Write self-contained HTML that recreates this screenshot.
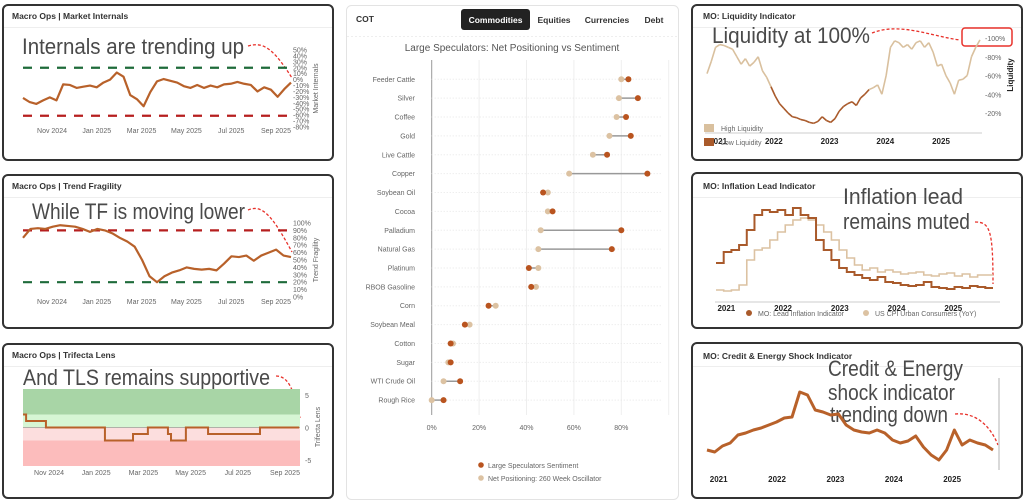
<!DOCTYPE html>
<html><head><meta charset="utf-8"><style>
html,body{margin:0;padding:0;background:#fff;width:1024px;height:502px;overflow:hidden;font-family:"Liberation Sans",sans-serif}
svg text{font-family:"Liberation Sans",sans-serif}
.hw{font-size:22px;fill:#4a4a4a}
.t{font-size:8.5px;font-weight:bold;fill:#333}
.ax{font-size:7px;fill:#666}
.ax2{font-size:8px;fill:#222;font-weight:bold}
</style></head><body>
<svg id="root" width="1024" height="502" viewBox="0 0 1024 502" xmlns="http://www.w3.org/2000/svg">
<!-- panels -->
<rect x="3" y="5" width="330" height="155" rx="5" fill="#fff" stroke="#333" stroke-width="2"/>
<rect x="3" y="175" width="330" height="153" rx="5" fill="#fff" stroke="#333" stroke-width="2"/>
<rect x="3" y="344" width="330" height="154" rx="5" fill="#fff" stroke="#333" stroke-width="2"/>
<rect x="346.5" y="5.5" width="332" height="494" rx="5" fill="#fff" stroke="#e3e3e3"/>
<rect x="692" y="5" width="330" height="155" rx="5" fill="#fff" stroke="#333" stroke-width="2"/>
<rect x="692" y="173" width="330" height="155" rx="5" fill="#fff" stroke="#333" stroke-width="2"/>
<rect x="692" y="343" width="330" height="155" rx="5" fill="#fff" stroke="#333" stroke-width="2"/>
<g stroke="#eee" stroke-width="1">
<line x1="4" x2="332" y1="27.5" y2="27.5"/><line x1="4" x2="332" y1="197.5" y2="197.5"/><line x1="4" x2="332" y1="366.5" y2="366.5"/>
<line x1="693" x2="1021" y1="27.5" y2="27.5"/><line x1="693" x2="1021" y1="197.5" y2="197.5"/><line x1="693" x2="1021" y1="366.5" y2="366.5"/>
<line x1="347" x2="678" y1="36.5" y2="36.5" stroke-dasharray="2,2"/>
</g>
<text class="t" x="12" y="19">Macro Ops | Market Internals</text>
<text class="t" x="12" y="189">Macro Ops | Trend Fragility</text>
<text class="t" x="12" y="358">Macro Ops | Trifecta Lens</text>
<text class="t" x="703" y="19">MO: Liquidity Indicator</text>
<text class="t" x="703" y="189">MO: Inflation Lead Indicator</text>
<text class="t" x="703" y="359">MO: Credit &amp; Energy Shock Indicator</text>
<!-- annotations -->
<text class="hw" x="22" y="54" textLength="222" lengthAdjust="spacingAndGlyphs">Internals are trending up</text>
<text class="hw" x="32" y="219" textLength="213" lengthAdjust="spacingAndGlyphs">While TF is moving lower</text>
<text class="hw" x="23" y="385" textLength="247" lengthAdjust="spacingAndGlyphs">And TLS remains supportive</text>
<text class="hw" x="712" y="43" textLength="158" lengthAdjust="spacingAndGlyphs">Liquidity at 100%</text>
<text class="hw" x="843" y="204" textLength="120" lengthAdjust="spacingAndGlyphs">Inflation lead</text>
<text class="hw" x="843" y="229" textLength="127" lengthAdjust="spacingAndGlyphs">remains muted</text>
<text class="hw" x="828" y="376" textLength="135" lengthAdjust="spacingAndGlyphs">Credit &amp; Energy</text>
<text class="hw" x="828" y="400" textLength="127" lengthAdjust="spacingAndGlyphs">shock indicator</text>
<text class="hw" x="830" y="422" textLength="118" lengthAdjust="spacingAndGlyphs">trending down</text>
<g fill="none" stroke="#e8322b" stroke-width="1.3" stroke-dasharray="3,2">
<path d="M248 46 C262 42 272 46 292 78"/>
<path d="M248 210 C262 204 272 215 292 252"/>
<path d="M276 376 C292 376 295 400 300 418"/>
<path d="M872 33 C900 22 930 36 960 40"/>
<path d="M975 222 C990 222 993 230 993 284"/>
<path d="M955 414 C975 412 990 425 998 445"/>
</g>
<rect x="962" y="28" width="50" height="18" rx="3" fill="none" stroke="#e8322b" stroke-width="1.5"/>
<!-- COT header -->
<text class="t" x="356" y="22">COT</text>
<rect x="461" y="9" width="69" height="21" rx="3" fill="#222"/>
<text x="495.5" y="23" text-anchor="middle" font-size="8.5" font-weight="bold" fill="#fff">Commodities</text>
<text x="554" y="23" text-anchor="middle" font-size="8.5" font-weight="bold" fill="#333">Equities</text>
<text x="607" y="23" text-anchor="middle" font-size="8.5" font-weight="bold" fill="#333">Currencies</text>
<text x="654" y="23" text-anchor="middle" font-size="8.5" font-weight="bold" fill="#333">Debt</text>
<text x="512" y="51" text-anchor="middle" font-size="10" fill="#555">Large Speculators: Net Positioning vs Sentiment</text>
<g id="g"></g>
</svg>
<script>
// ===== data =====
const cotCategories = ["Feeder Cattle","Silver","Coffee","Gold","Live Cattle","Copper","Soybean Oil","Cocoa","Palladium","Natural Gas","Platinum","RBOB Gasoline","Corn","Soybean Meal","Cotton","Sugar","WTI Crude Oil","Rough Rice"];
const cotSentiment = [83,87,82,84,74,91,47,51,80,76,41,42,24,14,8,8,12,5];
const cotOscillator = [80,79,78,75,68,58,49,49,46,45,45,44,27,16,9,7,5,0];
const cotTicks = [0,20,40,60,80];

const internalsValues = [-31,-38,-41,-35,-30,-35,-8,-9,-14,-12,-10,-13,-5,0,12,5,-26,-33,-45,-21,-3,1,-2,-5,-11,-14,-9,-14,-10,-13,-8,-7,-4,-7,-9,-20,-13,-17,-29,-16,-5];
const internalsTicks = [50,40,30,20,10,0,-10,-20,-30,-40,-50,-60,-70,-80];
const internalsBands = [20,-61];

const fragilityValues = [80,92,93,92,95,97,96,95,92,88,92,90,86,80,75,68,50,28,20,28,33,36,40,38,37,38,36,45,55,54,56,49,56,60,64,56,54];
const fragilityTicks = [100,90,80,70,60,50,40,30,20,10,0];
const fragilityBands = [90,20];

const dateLabels = ["Nov 2024","Jan 2025","Mar 2025","May 2025","Jul 2025","Sep 2025"];
const dateLabelMonths = [0,2,4,6,8,10];

const tlsStartMonths = [-1.1,-0.97,-0.13,2.37,3.56,4.19,5.04,5.17,5.8,6.74,8.94];
const tlsValues = [2,1,0,-2,-1,0,-1,-2,0,-1,0];
const tlsTicks = [5,0,-5];

const liquidityValues = [62,75,90,93,92,90,88,80,72,78,70,74,80,65,58,48,38,30,25,20,16,15,13,12,10,9,11,16,12,10,14,22,27,30,32,28,36,40,45,47,50,40,60,90,97,95,90,93,88,95,97,90,95,85,70,72,60,52,40,55,56,60,80,90,98];
const liquidityTicks = [100,80,60,40,20];
const yearLabels = ["2021","2022","2023","2024","2025"];
const yearValues = [2021,2022,2023,2024,2025];

const leadInflation = [3.2,4.3,4.5,5,6.5,8,8.5,8.3,8.5,8,8.7,8,7.7,5.5,4.5,3.5,2.7,2.3,2,1.7,1.5,1.8,1.3,1.2,1,0.9,1,1.3,0.8,0.7,0.6,0.8,0.7,0.9,0.8,0.7];
const cpiInflation = [0.5,0.4,0.5,1,3.5,4.5,4.7,5.5,6.3,7,7.5,7.7,7.5,7,6.3,5.5,4.5,3.7,3,2.5,2.7,2.3,2.5,2.3,2.1,2.2,2.3,2,1.9,2.1,2.2,1.9,2.1,1.8,2,2];

const creditShock = [3,2.6,3.8,4.4,6,6.4,7,7.4,8,8.6,9.4,9.6,14.6,14,11,10.6,10,10.2,8,7,6.6,6.4,7,6.4,5,4.4,4.8,5.8,3.6,2,1,3,7,4,5,4.4,4,3];

// ===== helpers =====
const NS = "http://www.w3.org/2000/svg";
const G = document.getElementById('g');
function mk(tag, attrs, parent){const e=document.createElementNS(NS,tag);for(const k in attrs)e.setAttribute(k,attrs[k]);(parent||G).appendChild(e);return e;}
function txt(x,y,s,cls,anchor){const e=mk('text',{x:x,y:y,class:cls,'text-anchor':anchor||'start'});e.textContent=s;return e;}
function lin(d0,d1,r0,r1){return v=>r0+(v-d0)/(d1-d0)*(r1-r0);}

// ===== COT dumbbell =====
(function(){
  const x=lin(0,80,431.7,621.3);
  const y=i=>79.3+i*18.87;
  cotTicks.forEach(t=>{
    const l=mk('line',{x1:x(t),x2:x(t),y1:60,y2:415,stroke:t===0?'#999':'#eee','stroke-width':1});
    
    
    const tx=txt(x(t),430,t+'%','ax','middle');
    
    
  });
  const l=mk('line',{x1:x(100),x2:x(100),y1:60,y2:415,stroke:'#eee'});
  
  
  cotCategories.forEach((c,i)=>{
    const g=mk('line',{x1:x(0),x2:662,y1:y(i),y2:y(i),stroke:'#e6e6e6','stroke-dasharray':'1,2'});
    
    
    const lab=txt(415,y(i)+2.5,c,'ax','end');
    
    
    const conn=mk('line',{x1:x(cotSentiment[i]),x2:x(cotOscillator[i]),y1:y(i),y2:y(i),stroke:'#999','stroke-width':1.5});
    
    
    const b=mk('circle',{cx:x(cotOscillator[i]),cy:y(i),r:3,fill:'#dcc2a2'});
    
    
    const a=mk('circle',{cx:x(cotSentiment[i]),cy:y(i),r:3,fill:'#b9541f'});
    
    
  });
  const d1=mk('circle',{cx:481,cy:465,r:2.8,fill:'#b9541f'});
  
  
  const t1=txt(488,468,'Large Speculators Sentiment','ax');
  
  
  const d2=mk('circle',{cx:481,cy:478,r:2.8,fill:'#dcc2a2'});
  
  
  const t2=txt(488,481,'Net Positioning: 260 Week Oscillator','ax');
  
  
})();

// ===== left line charts =====
function leftLine(vals,ticks,bands,yTop,yBot,vTop,vBot,xl,title,tickStep,name){
  const y=lin(vTop,vBot,yTop,yBot);
  const x=lin(0,vals.length-1,23,291);
  const cols=['#1e6b3a','#b61f1f'];
  bands.forEach((b,i)=>{
    const l=mk('line',{x1:23,x2:293,y1:y(b),y2:y(b),stroke:cols[name==='fragility'?1-i:i],'stroke-width':2.2,'stroke-dasharray':'9,8'});
    
    
  });
  const p=mk('polyline',{points:vals.map((v,i)=>x(i)+','+y(v)).join(' '),fill:'none',stroke:'#b8612a','stroke-width':2.2,'stroke-linejoin':'round'});
  
  
  ticks.forEach(t=>{
    const e=txt(293,y(t)+2.5,t+'%','ax');
    e.setAttribute('font-size',tickStep);
    
    
  });
  const m=lin(0,10,52,276);
  dateLabels.forEach((d,i)=>{
    const e=txt(m(dateLabelMonths[i]),xl,d,'ax','middle');
    
    
  });
  const at=txt(0,0,title,'ax','middle');
  at.setAttribute('font-size','8.5');
  at.setAttribute('transform','translate(318,'+((yTop+yBot)/2)+') rotate(-90)');
  
  
}
leftLine(internalsValues,internalsTicks,internalsBands,50,127,50,-80,133,'Market Internals','6.5','internals');
leftLine(fragilityValues,fragilityTicks,fragilityBands,223,297,100,0,304,'Trend Fragility','7','fragility');

// ===== Trifecta =====
(function(){
  const y=lin(5,-5,395,460);
  const m=lin(0,10,49,285);
  const bands=[[389,y(2),'#a8d5a6'],[y(2),y(0),'#d6f6d4'],[y(0),y(-2),'#fcdede'],[y(-2),466,'#fcbcbc']];
  bands.forEach(b=>{
    const r=mk('rect',{x:23,y:b[0],width:277,height:b[1]-b[0],fill:b[2]});
    
    
  });
  const zl=mk('line',{x1:23,x2:300,y1:y(0),y2:y(0),stroke:'#777','stroke-width':0.6});
  
  
  let d='';
  tlsStartMonths.forEach((s,i)=>{
    const e=i<tlsStartMonths.length-1?tlsStartMonths[i+1]:10.6;
    d+=(i===0?'M':'L')+m(s)+' '+y(tlsValues[i])+' L'+m(e)+' '+y(tlsValues[i])+' ';
  });
  const p=mk('path',{d:d,fill:'none',stroke:'#b8612a','stroke-width':2});
  
  
  tlsTicks.forEach(t=>{
    const e=txt(305,y(t)+3,String(t),'ax');
    e.setAttribute('font-size','8');
    
    
  });
  dateLabels.forEach((d2,i)=>{
    const e=txt(m(dateLabelMonths[i]),475,d2,'ax','middle');
    
    
  });
  const at=txt(0,0,'Trifecta Lens','ax','middle');
  at.setAttribute('font-size','8.5');
  at.setAttribute('transform','translate(320,427) rotate(-90)');
  
  
})();

// ===== year axis helper =====
function yearAxis(x,yy,name){
  yearLabels.forEach((l,i)=>{
    const e=txt(x(yearValues[i]),yy,l,'ax2','middle');
    
    
  });
}

// ===== Liquidity =====
(function(){
  const y=lin(100,20,38,113);
  const x=lin(0,liquidityValues.length-1,707,980);
  const xd=lin(2020.8,2025.7,707,980);
  for(let i=1;i<liquidityValues.length;i++){
    const v0=liquidityValues[i-1],v1=liquidityValues[i];
    const s=mk('line',{x1:x(i-1),y1:y(v0),x2:x(i),y2:y(v1),stroke:(v0+v1)/2>=45?'#d9c09e':'#a95a2b','stroke-width':1.6});
    
    
  }
  const al=mk('line',{x1:705,x2:982,y1:133,y2:133,stroke:'#ccc'});
  
  
  liquidityTicks.forEach(t=>{
    const e=txt(985,y(t)+3,'-'+t+'%','ax');
    e.setAttribute('font-size','8.5');
    e.setAttribute('fill','#333');
    
    
  });
  yearAxis(xd,144,'liquidity');
  const at=txt(0,0,'Liquidity','ax2','middle');
  at.setAttribute('font-size','10');
  at.setAttribute('transform','translate(1013,75) rotate(-90)');
  
  
  const r1=mk('rect',{x:704,y:124,width:10,height:8,fill:'#d9c09e'});
  
  
  const t1=txt(721,131,'High Liquidity','ax');
  
  
  const r2=mk('rect',{x:704,y:138,width:10,height:8,fill:'#a95a2b'});
  
  
  const t2=txt(721,145,'Low Liquidity','ax');
  
  
})();

// ===== Inflation =====
(function(){
  const y=lin(0,10,295,195);
  const xd=lin(2020.8,2025.7,715,993);
  function step(vals,col,w,name){
    const x=lin(0,vals.length,716,993);
    let d='M'+x(0)+' '+y(vals[0]);
    vals.forEach((v,i)=>{d+=' L'+x(i)+' '+y(v)+' L'+x(i+1)+' '+y(v);});
    const p=mk('path',{d:d,fill:'none',stroke:col,'stroke-width':w});
    
    
  }
  step(cpiInflation,'#dcc2a2',1.6,'cpi-line');
  step(leadInflation,'#a95a2b',2,'lead-inflation-line');
  const al=mk('line',{x1:715,x2:1000,y1:302,y2:302,stroke:'#ccc'});
  
  
  yearAxis(xd,311,'inflation');
  const c1=mk('circle',{cx:749,cy:313,r:3,fill:'#a95a2b'});
  
  
  const t1=txt(758,316,'MO: Lead Inflation Indicator','ax');
  
  
  const c2=mk('circle',{cx:866,cy:313,r:3,fill:'#dcc2a2'});
  
  
  const t2=txt(875,316,'US CPI Urban Consumers (YoY)','ax');
  
  
})();

// ===== Credit & Energy =====
(function(){
  const y=lin(0,15,465,390);
  const x=lin(0,creditShock.length-1,707,993);
  const xd=lin(2020.8,2025.7,707,993);
  const p=mk('polyline',{points:creditShock.map((v,i)=>x(i)+','+y(v)).join(' '),fill:'none',stroke:'#b8612a','stroke-width':3,'stroke-linejoin':'round'});
  
  
  const vl=mk('line',{x1:999,x2:999,y1:378,y2:470,stroke:'#ccc','stroke-width':1.5});
  
  
  yearAxis(xd,482,'credit');
})();
</script>
</body></html>
